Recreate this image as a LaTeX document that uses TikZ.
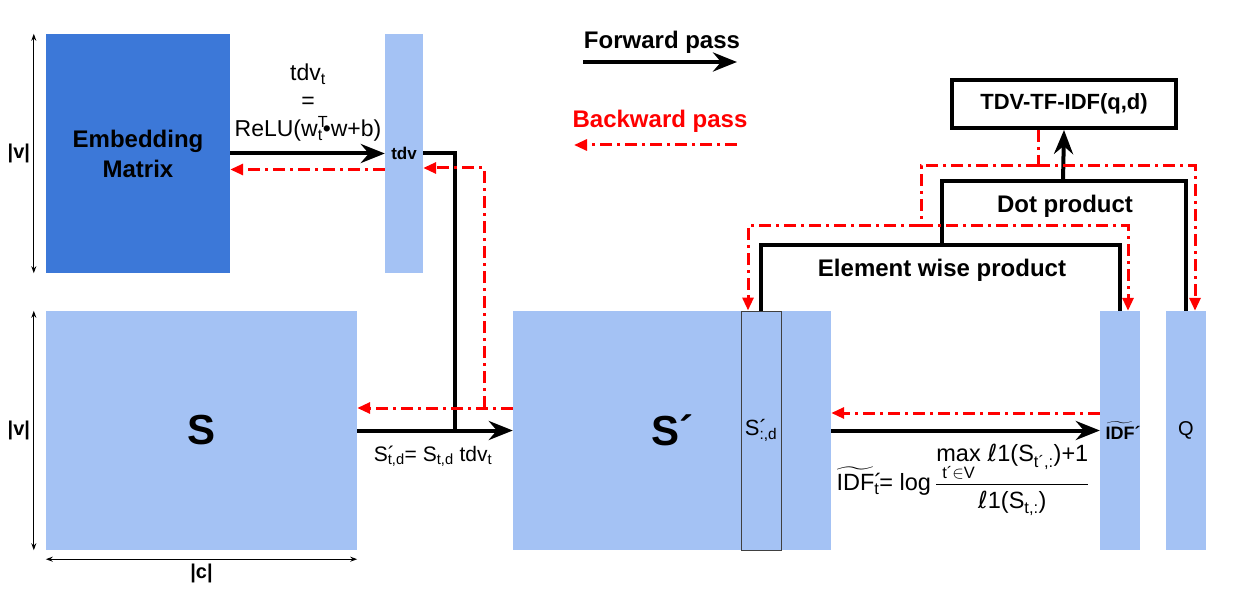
\documentclass[tikz,border=0pt]{standalone}
\usepackage{amsmath}
\usepackage{fontspec}
\setmainfont{Liberation Sans}
\newfontfamily\dejavu{DejaVu Sans}
\usetikzlibrary{arrows.meta,positioning}
\definecolor{embblue}{HTML}{3C78D8}
\definecolor{matblue}{HTML}{A4C2F4}
\newcommand{\lone}{\text{\dejavu ℓ}\text{1}}

\begin{document}
\begin{tikzpicture}[x=1pt,y=-1pt,
  mat/.style={fill=#1,inner sep=0pt,align=center},
  fwd/.style={line width=4pt,-{Stealth[length=24pt,width=19pt,inset=8pt]}},
  fwdline/.style={line width=4pt},
  bwd/.style={red,line width=3pt,dash pattern=on 12pt off 5pt on 3pt off 5pt,
              -{Triangle[length=13pt,width=11pt]}},
  bwdline/.style={red,line width=3pt,dash pattern=on 12pt off 5pt on 3pt off 5pt},
  dim/.style={line width=1pt,{Stealth[length=7pt,width=5pt]}-{Stealth[length=7pt,width=5pt]}},
  lbl/.style={font=\fontsize{24}{30}\selectfont\bfseries,align=center}
]
\useasboundingbox (0,0) rectangle (1238,612);

% matrices and vectors
\node[mat=embblue,minimum width=184pt,minimum height=239pt,lbl] (emb) at (138,153.5) {Embedding\\Matrix};
\node[mat=matblue,minimum width=38pt,minimum height=239pt,font=\fontsize{17}{20}\selectfont\bfseries] (tdv) at (404,153.5) {tdv};
\node[mat=matblue,minimum width=311pt,minimum height=239pt,font=\fontsize{42}{48}\selectfont\bfseries] (S) at (201.5,430.5) {S};
\node[mat=matblue,minimum width=318pt,minimum height=239pt,font=\fontsize{42}{48}\selectfont\bfseries] (Sp) at (672,430.5) {S´};
\node[mat=matblue,draw=black!75,line width=1pt,minimum width=40pt,minimum height=239pt,font=\fontsize{22}{26}\selectfont] (Scol) at (761,430.5) {S\rlap{´}\textsubscript{:,d}};
\node[mat=matblue,minimum width=40pt,minimum height=239pt,font=\fontsize{18}{22}\selectfont\bfseries] (idf) at (1120,430.5) {$\widetilde{\text{IDF}}$\rlap{´}};
\node[mat=matblue,minimum width=40pt,minimum height=239pt,font=\fontsize{20}{24}\selectfont] (q) at (1186,430.5) {Q};
\node[draw,line width=4pt,minimum width=224pt,minimum height=48pt,inner sep=0pt,font=\fontsize{22}{26}\selectfont\bfseries] (score) at (1064,104) {TDV-TF-IDF(q,d)};

% legend
\node[lbl] (fwdtxt) at (662,42) {Forward pass};
\coordinate (fwdA) at (583,62);
\coordinate (fwdB) at (737,62);
\draw[fwd] (fwdA) -- (fwdB);
\node[lbl,text=red] (bwdtxt) at (660,121) {Backward pass};
\coordinate (bwdA) at (737,145);
\coordinate (bwdB) at (574,145);
\draw[bwd] (bwdA) -- (bwdB);

% dimensions
\draw[dim] ([xshift=-12pt]emb.north west) -- node[left,font=\fontsize{20}{24}\selectfont\bfseries] (v1) {|v|} ([xshift=-12pt]emb.south west);
\draw[dim] ([xshift=-12pt]S.north west) -- node[left,font=\fontsize{20}{24}\selectfont\bfseries] (v2) {|v|} ([xshift=-12pt]S.south west);
\draw[dim] ([yshift=-9pt]S.south west) -- node[below=1pt,font=\fontsize{20}{24}\selectfont\bfseries] (c1) {|c|} ([yshift=-9pt]S.south east);

% embedding -> tdv -> S'
\draw[fwd] (emb.east) -- (tdv.west);
\node[align=center,font=\fontsize{23}{28}\selectfont] (tdvf) at (308,103) {tdv\textsubscript{t}\\=\\ReLU(w\rlap{\textsuperscript{T}}\textsubscript{t}•w+b)};
\draw[bwd] ([yshift=-16pt]tdv.west) -- ([yshift=-16pt]emb.east);
\coordinate (join) at (455,430.5);
\draw[fwdline] (tdv.east) -| (join);
\draw[fwd] (S.east) -- (Sp.west);
\node[font=\fontsize{21}{24}\selectfont] (seq) at (433,456) {S\rlap{´}\textsubscript{t,d}= S\textsubscript{t,d} tdv\textsubscript{t}};
\draw[bwd] ([yshift=22.5pt]Sp.west) -- ([yshift=22.5pt]S.east);
\coordinate (brk) at (484,408);
\draw[bwd] (brk) |- ([yshift=-14.5pt]tdv.east);

% S' -> IDF
\draw[fwd] (Sp.east) -- (idf.west);
\draw[bwd] ([yshift=17.5pt]idf.west) -- ([yshift=17.5pt]Sp.east);
\node[font=\fontsize{23.5}{28}\selectfont] (idfeq) at (963,480)
  {$\widetilde{\text{IDF}}\rlap{´}_{\text{t}}\text{= log}\,\dfrac{\underset{\text{t´}\in\text{V}}{\text{max}}\;\lone\text{(S}_{\text{t´,:}}\text{)+1}}{\lone\text{(S}_{\text{t,:}}\text{)}}$};

% products
\coordinate (ewp) at (942,245);
\coordinate (dp) at (1063,181);
\draw[fwdline] (Scol.north) |- (ewp) -| (idf.north);
\node[lbl] (ewtxt) at (942,270) {Element wise product};
\draw[fwdline] (ewp) |- (dp) -| (q.north);
\node[lbl] (dptxt) at (1065,206) {Dot product};
\draw[fwd] (dp) -- (score.south);

% backward from score
\coordinate (rb) at (1038,166);
\coordinate (rb2) at (921,226);
\draw[bwdline] ([xshift=-26pt]score.south) -- (rb);
\draw[bwd] (rb) -| ([xshift=9pt]q.north);
\draw[bwdline] (rb) -| (rb2);
\draw[bwd] (rb2) -| ([xshift=-13pt]Scol.north);
\draw[bwd] (rb2) -| ([xshift=8pt]idf.north);
\end{tikzpicture}
\end{document}
